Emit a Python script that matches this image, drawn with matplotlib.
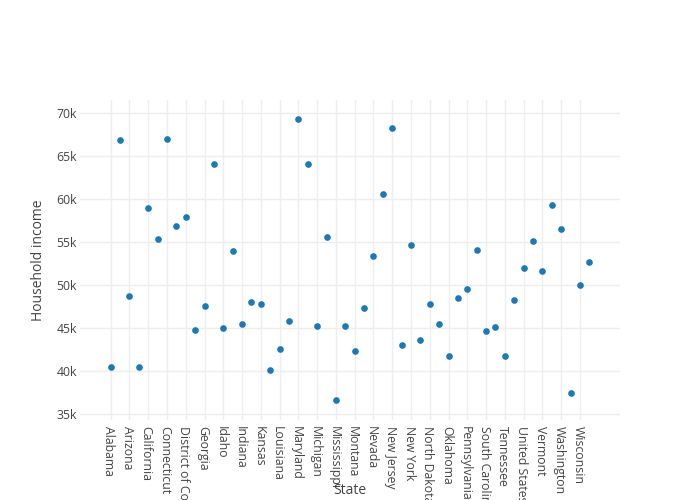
import matplotlib
matplotlib.use("Agg")
import matplotlib.pyplot as plt
import matplotlib.transforms as mtransforms
from matplotlib.ticker import FuncFormatter

states = ["Alabama", "Alaska", "Arizona", "Arkansas", "California", "Colorado",
          "Connecticut", "Delaware", "District of Columbia", "Florida", "Georgia",
          "Hawaii", "Idaho", "Illinois", "Indiana", "Iowa", "Kansas", "Kentucky",
          "Louisiana", "Maine", "Maryland", "Massachusetts", "Michigan", "Minnesota",
          "Mississippi", "Missouri", "Montana", "Nebraska", "Nevada", "New Hampshire",
          "New Jersey", "New Mexico", "New York", "North Carolina", "North Dakota",
          "Ohio", "Oklahoma", "Oregon", "Pennsylvania", "Rhode Island",
          "South Carolina", "South Dakota", "Tennessee", "Texas", "United States",
          "Utah", "Vermont", "Virginia", "Washington", "West Virginia", "Wisconsin",
          "Wyoming"]
income = [40500, 66930, 48750, 40500, 58950, 55420, 67010, 56860, 57940, 44770,
          47590, 64100, 44960, 53990, 45420, 48060, 47830, 40070, 42520, 45770,
          69300, 64100, 45270, 55620, 36660, 45230, 42360, 47360, 53370, 60580,
          68330, 43060, 54690, 43670, 47860, 45420, 41700, 48490, 49540, 54140,
          44650, 45070, 41740, 48290, 52050, 55150, 51630, 59340, 56580, 37440,
          50000, 52670]
y_ticks = [35000, 40000, 45000, 50000, 55000, 60000, 65000, 70000]

plt.rcParams['font.family'] = ['Open Sans', 'DejaVu Sans']

fig = plt.figure(figsize=(7, 5), dpi=100)
ax = fig.add_axes([80/700, 80/500, 540/700, 320/500])

x = list(range(len(states)))
ax.scatter(x, income, s=(4.8)**2, color='#1f77b4', zorder=3, linewidths=0)

ax.set_xlim(-3.27, 54.27)
ax.set_ylim(34300, 71550)

ax.set_xticks(x[::2])
ax.set_xticklabels(states[::2], rotation=-90, fontsize=8.8, color='#444444')
ax.set_yticks(y_ticks)
ax.yaxis.set_major_formatter(FuncFormatter(lambda v, p: f"{int(v/1000)}k"))
ax.tick_params(axis='y', labelsize=8.8, labelcolor='#444444', length=0, pad=2)
ax.tick_params(axis='x', length=0, pad=4)
offset = mtransforms.ScaledTranslation(-2/100, 0, fig.dpi_scale_trans)
for lbl in ax.get_xticklabels():
    lbl.set_va('top')
    lbl.set_ha('center')
    lbl.set_transform(lbl.get_transform() + offset)

ax.grid(True, color='#eeeeee', linewidth=1, zorder=0)
ax.set_axisbelow(True)
for s in ax.spines.values():
    s.set_visible(False)

fig.text(350/700, 1 - 491/500, "State", ha='center', va='center', fontsize=10, color='#444444')
fig.text(38/700, 1 - 260/500, "Household income", ha='center', va='center',
         rotation=90, fontsize=10, color='#444444')

fig.savefig("out.png", dpi=100)
